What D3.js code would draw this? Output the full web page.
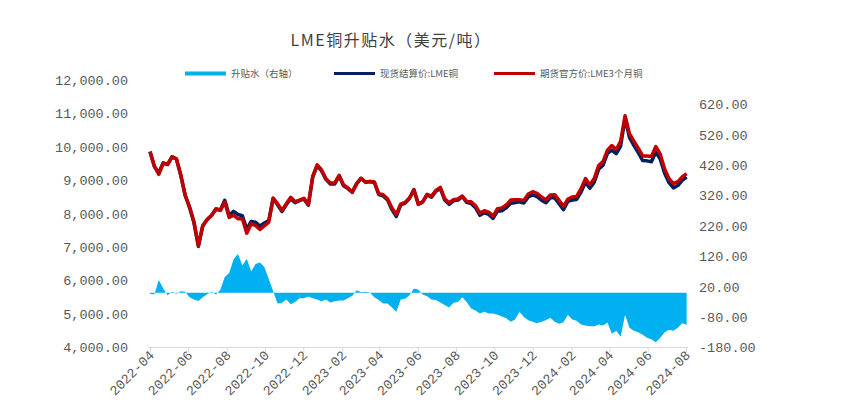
<!DOCTYPE html>
<html>
<head>
<meta charset="utf-8">
<script src="https://cdn.jsdelivr.net/npm/d3@7"></script>
<style>
  body { margin: 0; background: #fff; }
</style>
</head>
<body>
<svg width="850" height="414"></svg>
<script>
// weekly observations starting from this date
const startDate = '2022-04-01';

// 期货官方价:LME3个月铜 (USD/t)
const threeMonth = [
  9860, 9420, 9180, 9510, 9480, 9700, 9640, 9150, 8550, 8200,
  7750, 7050, 7650, 7830, 7950, 8150, 8100, 8350, 7890, 7960,
  7850, 7850, 7420, 7700, 7650, 7530, 7640, 7750, 8460, 8300,
  8100, 8300, 8490, 8360, 8410, 8460, 8270, 9120, 9460, 9310,
  9050, 8920, 8920, 9150, 8860, 8770, 8650, 8900, 9060, 8940,
  8965, 8950, 8600, 8570, 8450, 8170, 7980, 8290, 8340, 8470,
  8710, 8280, 8360, 8580, 8520, 8700, 8790, 8450, 8330, 8420,
  8440, 8530, 8370, 8360, 8240, 8020, 8090, 8050, 7930, 8150,
  8170, 8260, 8410, 8420, 8420, 8400, 8590, 8660, 8610, 8500,
  8420, 8560, 8570, 8400, 8220, 8440, 8500, 8520, 8750, 9050,
  8870, 9050, 9440, 9560, 9900, 10040, 9920, 10170, 10930, 10400,
  10170, 9960, 9730, 9730, 9710, 10010, 9780, 9340, 9050, 8900,
  8960, 9100, 9200
];

// 现货结算价:LME铜 (USD/t)
const cash = [
  9856, 9415, 9222, 9524, 9472, 9703, 9637, 9155, 8553, 8185,
  7728, 7023, 7635, 7825, 7953, 8144, 8110, 8402, 7955, 8070,
  7978, 7940, 7532, 7770, 7745, 7630, 7725, 7795, 8465, 8265,
  8067, 8278, 8452, 8330, 8392, 8442, 8258, 9102, 9438, 9282,
  9028, 8888, 8892, 9125, 8835, 8752, 8640, 8908, 9062, 8943,
  8966, 8935, 8576, 8535, 8415, 8122, 7918, 8268, 8320, 8462,
  8724, 8290, 8354, 8569, 8498, 8676, 8758, 8410, 8282, 8387,
  8410, 8515, 8340, 8308, 8182, 7952, 8028, 7982, 7862, 8078,
  8092, 8176, 8315, 8332, 8358, 8320, 8500, 8565, 8510, 8405,
  8330, 8478, 8475, 8298, 8123, 8368, 8412, 8428, 8646, 8942,
  8760, 8940, 9336, 9452, 9802, 9905, 9795, 10025, 10858, 10285,
  10045, 9830, 9592, 9582, 9557, 9847, 9632, 9210, 8928, 8775,
  8845, 9000, 9095
];

// 升贴水 (right axis)
const spread = [
  -4, -5, 42, 14, -8, 3, -3, 5, 3, -15,
  -22, -27, -15, -5, 3, -6, 10, 52, 65, 110,
  128, 90, 112, 70, 95, 100, 85, 45, 5, -35,
  -33, -22, -38, -30, -18, -18, -12, -18, -22, -28,
  -22, -32, -28, -25, -25, -18, -10, 8, 2, 3,
  1, -15, -24, -35, -35, -48, -62, -22, -20, -8,
  14, 10, -6, -11, -22, -24, -32, -40, -48, -33,
  -30, -15, -30, -52, -58, -68, -62, -68, -68, -72,
  -78, -84, -95, -88, -62, -80, -90, -95, -100, -95,
  -90, -82, -95, -102, -97, -72, -88, -92, -104, -108,
  -110, -110, -104, -108, -98, -135, -125, -145, -72, -115,
  -125, -130, -138, -148, -153, -163, -148, -130, -122, -125,
  -115, -100, -105
];

const xTickLabels = ['2022-04', '2022-06', '2022-08', '2022-10', '2022-12',
  '2023-02', '2023-04', '2023-06', '2023-08', '2023-10', '2023-12',
  '2024-02', '2024-04', '2024-06', '2024-08'];
const leftTicks = [4000, 5000, 6000, 7000, 8000, 9000, 10000, 11000, 12000];
const rightTicks = [-180, -80, 20, 120, 220, 320, 420, 520, 620];

const legendItems = [
  { label: '升贴水（右轴）', color: '#00B0F0', x: 185 },
  { label: '现货结算价:LME铜', color: '#002060', x: 334 },
  { label: '期货官方价:LME3个月铜', color: '#C00000', x: 494 }
];

(function() {
  'use strict';

  const svg = d3.select('svg');
  const numFont = '"Liberation Mono", monospace';
  const cjkFont = '"Noto Sans CJK SC", sans-serif';
  const grey = '#595959';

  const fmt = d3.formatLocale({
    decimal: '.', thousands: ',', grouping: [3], currency: ['', ''], minus: '-'
  }).format(',.2f');

  const parse = d3.timeParse('%Y-%m-%d');
  const parseMonth = d3.timeParse('%Y-%m');
  const start = parse(startDate);
  const data = threeMonth.map((v, i) => ({
    date: d3.timeDay.offset(start, i * 7),
    fut: v,
    cash: cash[i],
    spread: spread[i]
  }));

  const x = d3.scaleTime()
    .domain([parseMonth(xTickLabels[0]), parseMonth(xTickLabels[xTickLabels.length - 1])])
    .range([150, 686]);
  const yL = d3.scaleLinear().domain([4000, 12000]).range([347.5, 80]);
  const yR = d3.scaleLinear().domain([-180, 700]).range([347.5, 80]);

  // title
  svg.append('text')
    .attr('x', 391).attr('y', 46)
    .attr('text-anchor', 'middle')
    .style('font-family', cjkFont)
    .style('font-size', '16px')
    .style('letter-spacing', '1.5px')
    .style('fill', '#404040')
    .text('LME铜升贴水（美元/吨）');

  // legend
  const lg = svg.append('g').attr('class', 'legend');
  legendItems.forEach(d => {
    lg.append('line')
      .attr('x1', d.x).attr('x2', d.x + 41)
      .attr('y1', 73.5).attr('y2', 73.5)
      .style('stroke', d.color)
      .style('stroke-width', d.color === '#00B0F0' ? 4 : 3);
    lg.append('text')
      .attr('x', d.x + 46).attr('y', 77)
      .style('font-family', cjkFont)
      .style('font-size', '9.5px')
      .style('fill', grey)
      .text(d.label);
  });

  // spread area on right axis
  const area = d3.area()
    .x(d => x(d.date))
    .y0(yR(0))
    .y1(d => yR(d.spread));
  svg.append('path')
    .datum(data)
    .attr('d', area)
    .style('fill', '#00B0F0');

  const lineCash = d3.line().x(d => x(d.date)).y(d => yL(d.cash));
  const lineFut = d3.line().x(d => x(d.date)).y(d => yL(d.fut));

  svg.append('path')
    .datum(data)
    .attr('d', lineCash)
    .style('fill', 'none')
    .style('stroke', '#002060')
    .style('stroke-width', 3.5)
    .style('stroke-linejoin', 'round');
  svg.append('path')
    .datum(data)
    .attr('d', lineFut)
    .style('fill', 'none')
    .style('stroke', '#C00000')
    .style('stroke-width', 3.5)
    .style('stroke-linejoin', 'round');

  // left axis labels
  const left = d3.axisLeft(yL).tickValues(leftTicks).tickFormat(fmt).tickSize(0).tickPadding(0);
  const gL = svg.append('g').attr('transform', 'translate(128,0)').call(left);
  gL.select('.domain').remove();
  gL.selectAll('text')
    .style('font-family', numFont).style('font-size', '13.5px').style('fill', grey);

  // right axis labels
  const right = d3.axisRight(yR).tickValues(rightTicks).tickFormat(fmt).tickSize(0).tickPadding(0);
  const gR = svg.append('g').attr('transform', 'translate(699,0)').call(right);
  gR.select('.domain').remove();
  gR.selectAll('text')
    .style('font-family', numFont).style('font-size', '13.5px').style('fill', grey);

  // bottom axis
  const bottom = d3.axisBottom(x)
    .tickValues(xTickLabels.map(parseMonth))
    .tickFormat(d3.timeFormat('%Y-%m'))
    .tickSizeInner(5).tickSizeOuter(0);
  const gX = svg.append('g').attr('transform', 'translate(0,347.5)').call(bottom);
  gX.select('.domain').attr('d', 'M148,0H688').style('stroke', '#d9d9d9');
  gX.selectAll('.tick line').style('stroke', '#d9d9d9');
  gX.selectAll('text')
    .style('font-family', numFont).style('font-size', '13.5px').style('fill', grey)
    .attr('text-anchor', 'end')
    .attr('dy', null)
    .attr('transform', 'translate(2,6) rotate(-45)')
    .attr('x', 0).attr('y', 0)
    .attr('dominant-baseline', 'middle');
}());
</script>
</body>
</html>
